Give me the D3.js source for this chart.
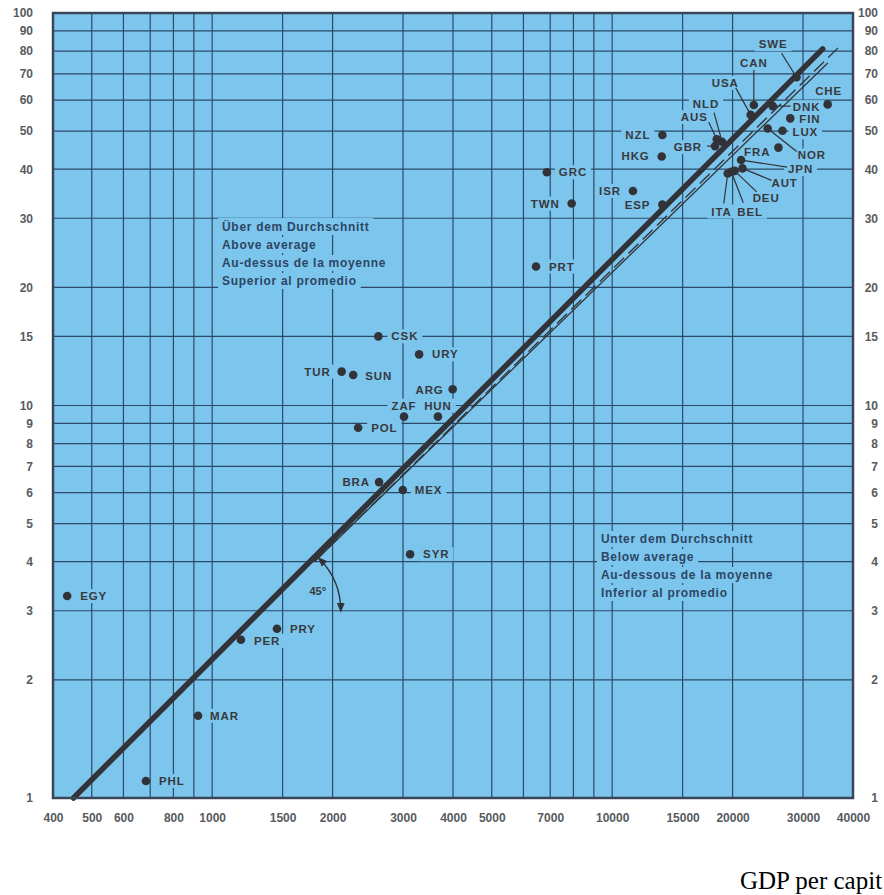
<!DOCTYPE html>
<html>
<head>
<meta charset="utf-8">
<script src="https://cdn.jsdelivr.net/npm/d3@7"></script>
<style>
  body { margin: 0; background: #ffffff; }
  svg { display: block; }
  .tick text { font-family: "Liberation Sans", Arial, sans-serif; font-weight: 700; font-size: 12px; fill: #575b60; }
</style>
</head>
<body>
<svg id="chart" width="884" height="895"></svg>
<script>
// Country codes with GDP per capita (x) and indicator value (y)
const countries = ["EGY","PHL","MAR","PER","PRY","SYR","BRA","MEX","POL","ZAF","HUN","ARG","TUR","SUN","CSK","URY",
  "PRT","GRC","TWN","ISR","ESP","HKG","NZL","GBR","AUS","NLD","USA","CAN","SWE","DNK","CHE","FIN","LUX","NOR","FRA",
  "JPN","AUT","DEU","BEL","ITA"];
const gdpPerCapita = [434, 683, 922, 1180, 1452, 3125, 2613, 2996, 2317, 3017, 3668, 3993, 2107, 2252, 2603, 3291,
  6452, 6865, 7920, 11270, 13350, 13300, 13350, 18080, 18260, 18820, 22200, 22600, 28900, 25200, 34570, 27870, 26650, 24480, 26040,
  21000, 21170, 20240, 19850, 19450];
const indicator = [3.27, 1.105, 1.62, 2.53, 2.70, 4.18, 6.38, 6.09, 8.78, 9.37, 9.37, 11.0, 12.2, 11.96, 15.0, 13.5,
  22.6, 39.3, 32.7, 35.2, 32.5, 43.1, 48.9, 45.8, 47.7, 47.0, 55.0, 58.3, 68.6, 57.9, 58.5, 53.9, 50.1, 50.8, 45.4,
  42.2, 40.2, 39.6, 39.4, 39.0];

// Reference lines (endpoints in data units)
const lineMain = [[450, 1], [33600, 81]];
const lineThin = [[1800, 4.0], [34600, 74.6]];
const lineDashed = [[1800, 4.0], [36700, 81.5]];

// Axis tick labels and grid values
const xTickValues = [400, 500, 600, 800, 1000, 1500, 2000, 3000, 4000, 5000, 7000, 10000, 15000, 20000, 30000, 40000];
const xGridValues = [500, 600, 700, 800, 900, 1000, 1500, 2000, 3000, 4000, 5000, 6000, 7000, 8000, 9000, 10000, 15000, 20000, 30000];
const yTickValues = [1, 2, 3, 4, 5, 6, 7, 8, 9, 10, 15, 20, 30, 40, 50, 60, 70, 80, 90, 100];
const yGridValues = [2, 3, 4, 5, 6, 7, 8, 9, 10, 15, 20, 30, 40, 50, 60, 70, 80, 90];

const aboveText = ["Über dem Durchschnitt", "Above average", "Au-dessus de la moyenne", "Superior al promedio"];
const belowText = ["Unter dem Durchschnitt", "Below average", "Au-dessous de la moyenne", "Inferior al promedio"];
const xCaption = "GDP per capit";

// Label placement: [dx, dy, anchor] relative to the point; optional leader end [lx, ly]
const labelLayout = {
  EGY: [13, 4, "start"], PHL: [13, 4, "start"], MAR: [12, 4, "start"], PER: [13, 5, "start"], PRY: [13, 4, "start"],
  SYR: [13, 4, "start"], BRA: [-9, 4, "end"], MEX: [12, 4, "start"], POL: [13, 4, "start"],
  ZAF: [0, -7, "middle"], HUN: [0, -7, "middle"], ARG: [-9, 5, "end"], TUR: [-11, 4, "end"], SUN: [12, 5, "start"],
  CSK: [13, 4, "start"], URY: [13, 4, "start"], PRT: [13, 4, "start"], GRC: [12, 4, "start"], TWN: [-12, 4, "end"],
  ISR: [-12, 4, "end"], ESP: [-12, 4, "end"], HKG: [-12, 4, "end"], NZL: [-12, 4, "end"],
  GBR: [-13, 5, "end", [-8, 0]],
  AUS: [-9, -18, "end", [-8, -17]],
  NLD: [-16, -34, "middle", [-8, -29]],
  USA: [-12, -28, "end", [-15, -27]],
  CAN: [0, -38, "middle", [0, -35]],
  SWE: [-9, -29, "end", [-15, -24]],
  DNK: [20, 5, "start", [18, 0]],
  CHE: [1, -9, "middle"],
  FIN: [9, 5, "start"], LUX: [10, 5.5, "start"],
  NOR: [30, 31, "start", [29, 23]],
  FRA: [-8, 8.5, "end"],
  JPN: [47, 13, "start", [46, 7]],
  AUT: [29, 19, "start", [29, 12]],
  DEU: [18, 31, "start", [22, 21]],
  BEL: [6, 44, "start", [12, 31]],
  ITA: [4, 42, "end", [-4, 30]]
};

const plot = { left: 53, right: 853, top: 13, bottom: 798 };
const bg = "#7cc5ec";
const gridColor = "#2c4a68";
const ink = "#323338";

const x = d3.scaleLog().domain([400, 40000]).range([plot.left, plot.right]);
const y = d3.scaleLog().domain([1, 100]).range([plot.bottom, plot.top]);

const svg = d3.select("#chart");

svg.append("rect")
  .attr("x", plot.left).attr("y", plot.top)
  .attr("width", plot.right - plot.left).attr("height", plot.bottom - plot.top)
  .attr("fill", bg);

// Grid
const grid = svg.append("g").attr("stroke", gridColor).attr("stroke-width", 1.2);
grid.selectAll("line.v").data(xGridValues).join("line")
  .attr("x1", d => x(d)).attr("x2", d => x(d))
  .attr("y1", plot.top).attr("y2", plot.bottom);
grid.selectAll("line.h").data(yGridValues).join("line")
  .attr("x1", plot.left).attr("x2", plot.right)
  .attr("y1", d => y(d)).attr("y2", d => y(d));

// Axes
const fmt = d3.format("d");
svg.append("g").attr("transform", `translate(0,${plot.bottom})`)
  .call(d3.axisBottom(x).tickValues(xTickValues).tickFormat(fmt).tickSize(0).tickPadding(15))
  .call(g => g.select(".domain").remove());
svg.append("g").attr("transform", `translate(${plot.left},0)`)
  .call(d3.axisLeft(y).tickValues(yTickValues).tickFormat(fmt).tickSize(0).tickPadding(20))
  .call(g => g.select(".domain").remove());
svg.append("g").attr("transform", `translate(${plot.right},0)`)
  .call(d3.axisRight(y).tickValues(yTickValues).tickFormat(fmt).tickSize(0))
  .call(g => g.select(".domain").remove())
  .call(g => g.selectAll("text").attr("text-anchor", "end").attr("x", 25));

// Text layers: knockout boxes go beneath the text
const knock = svg.append("g");
const textLayer = svg.append("g");

function addText(tx, ty, str, anchor, opts) {
  const t = textLayer.append("text")
    .attr("x", tx).attr("y", ty)
    .attr("text-anchor", anchor)
    .attr("font-family", "'Liberation Sans', Arial, sans-serif")
    .attr("font-weight", 700)
    .attr("font-size", opts.size)
    .attr("letter-spacing", opts.spacing)
    .attr("fill", opts.color)
    .text(str);
  const b = t.node().getBBox();
  knock.append("rect")
    .attr("x", b.x - 4).attr("y", b.y - 1)
    .attr("width", b.width + 8).attr("height", b.height + 2)
    .attr("fill", bg);
  return t;
}

const regionStyle = { size: 12, spacing: 0.7, color: "#2c4564" };
aboveText.forEach((s, i) => addText(222, 231 + i * 18, s, "start", regionStyle));
belowText.forEach((s, i) => addText(601, 543 + i * 18, s, "start", regionStyle));

const pts = countries.map((c, i) => ({ code: c, px: x(gdpPerCapita[i]), py: y(indicator[i]) }));
const labelStyle = { size: 11.5, spacing: 0.9, color: "#38393e" };
pts.forEach(p => {
  const L = labelLayout[p.code];
  addText(p.px + L[0], p.py + L[1], p.code, L[2], labelStyle);
});

// Leader lines
svg.append("g").attr("stroke", ink).attr("stroke-width", 1.2)
  .selectAll("line").data(pts.filter(p => labelLayout[p.code][3])).join("line")
  .attr("x1", p => p.px).attr("y1", p => p.py)
  .attr("x2", p => p.px + labelLayout[p.code][3][0])
  .attr("y2", p => p.py + labelLayout[p.code][3][1]);

// Reference lines
const lineGen = d3.line().x(d => x(d[0])).y(d => y(d[1]));
svg.append("path").datum(lineThin).attr("d", lineGen)
  .attr("fill", "none").attr("stroke", ink).attr("stroke-width", 1.3);
svg.append("path").datum(lineDashed).attr("d", lineGen)
  .attr("fill", "none").attr("stroke", ink).attr("stroke-width", 1.3).attr("stroke-dasharray", "14,6");
svg.append("path").datum(lineMain).attr("d", lineGen)
  .attr("fill", "none").attr("stroke", ink).attr("stroke-width", 5.5).attr("stroke-linecap", "round");

// 45 degree angle marker beside the main line
const defs = svg.append("defs");
defs.append("marker").attr("id", "arrow").attr("viewBox", "0 0 10 10")
  .attr("refX", 8).attr("refY", 5).attr("markerWidth", 7).attr("markerHeight", 7)
  .attr("orient", "auto-start-reverse")
  .append("path").attr("d", "M0,1 L10,5 L0,9 Z").attr("fill", ink);

const t0 = Math.log10(3 / lineMain[0][1]) / Math.log10(lineMain[1][1] / lineMain[0][1]);
const cx = x(lineMain[0][0] * Math.pow(lineMain[1][0] / lineMain[0][0], t0)) + 6;
const cy = y(3);
const r = 74;
const a0 = -Math.PI / 4;
const arcPath = `M${cx + r * Math.cos(a0)},${cy + r * Math.sin(a0)} A${r},${r} 0 0 1 ${cx + r},${cy}`;
svg.append("path").attr("d", arcPath).attr("fill", "none").attr("stroke", ink).attr("stroke-width", 1.4)
  .attr("marker-start", "url(#arrow)").attr("marker-end", "url(#arrow)");
svg.append("text").attr("x", cx + 51).attr("y", cy - 16).attr("text-anchor", "middle")
  .attr("font-family", "'Liberation Sans', Arial, sans-serif").attr("font-weight", 700)
  .attr("font-size", 11).attr("fill", "#38393e").text("45°");

// Dots
svg.append("g").attr("fill", ink).selectAll("circle").data(pts).join("circle")
  .attr("cx", p => p.px).attr("cy", p => p.py).attr("r", 4.3);

// Frame
svg.append("rect")
  .attr("x", plot.left).attr("y", plot.top)
  .attr("width", plot.right - plot.left).attr("height", plot.bottom - plot.top)
  .attr("fill", "none").attr("stroke", "#3a4658").attr("stroke-width", 2.5);

// Axis caption
svg.append("text").attr("x", 740).attr("y", 889)
  .attr("font-family", "'Liberation Serif', 'Times New Roman', serif")
  .attr("font-size", 25).attr("fill", "#000").text(xCaption);
</script>
</body>
</html>
